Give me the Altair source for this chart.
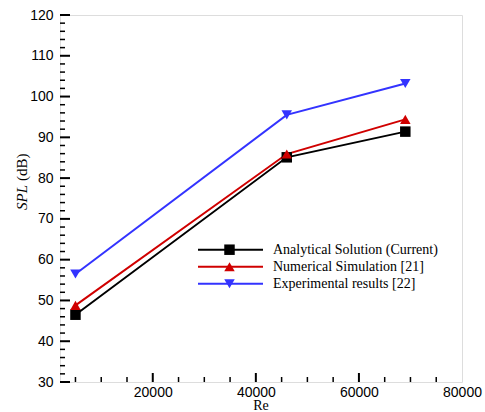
import altair as alt
import pandas as pd

re_vals = [5000, 46000, 69000]
analytical = [46.5, 85.1, 91.4]
numerical = [48.8, 85.9, 94.4]
experimental = [56.5, 95.5, 103.2]

series_names = ["Analytical Solution (Current)", "Numerical Simulation [21]", "Experimental results [22]"]
series_vals = [analytical, numerical, experimental]
colors = ["#000000", "#d00000", "#3333ff"]
shapes = ["square", "triangle-up", "triangle-down"]

y_major = list(range(30, 121, 10))
y_minor = [v for v in range(30, 121, 2) if v % 10 != 0]
x_major = [20000, 40000, 60000]
x_minor = [5000, 10000, 15000, 25000, 30000, 35000, 45000, 50000, 55000, 65000, 70000, 75000]

rows = []
for name, vals in zip(series_names, series_vals):
    for r, v in zip(re_vals, vals):
        rows.append({"Re": r, "SPL": v, "series": name})
df = pd.DataFrame(rows)

W, H = 402, 367
xscale = alt.Scale(domain=[2000, 80000], nice=False, zero=False)
yscale = alt.Scale(domain=[30, 120], nice=False, zero=False)
cscale = alt.Scale(domain=series_names, range=colors)
sscale = alt.Scale(domain=series_names, range=shapes)

xaxis = alt.Axis(values=[20000, 40000, 60000, 80000], format="d", grid=False, ticks=False, tickSize=0,
                 domain=False, labelFont="Liberation Sans", labelFontSize=14, labelColor="#000",
                 labelPadding=3, labelFlush=False, title=None)
yaxis = alt.Axis(values=y_major, grid=False, ticks=False, tickSize=0, domain=False,
                 labelFont="Liberation Sans", labelFontSize=14, labelColor="#000",
                 labelPadding=7, labelFlush=False, title=None)

base = alt.Chart(df)
lines = base.mark_line(strokeWidth=2).encode(
    x=alt.X("Re:Q", scale=xscale, axis=xaxis),
    y=alt.Y("SPL:Q", scale=yscale, axis=yaxis),
    color=alt.Color("series:N", scale=cscale, legend=None),
    detail="series:N",
)
points = base.mark_point(filled=True, opacity=1, size=110).encode(
    x=alt.X("Re:Q", scale=xscale),
    y=alt.Y("SPL:Q", scale=yscale),
    color=alt.Color("series:N", scale=cscale, legend=None),
    shape=alt.Shape("series:N", scale=sscale, legend=None),
)

ymaj = alt.Chart(pd.DataFrame({"v": y_major})).mark_rule(color="black", strokeWidth=2).encode(
    y=alt.Y("v:Q", scale=yscale), x=alt.value(0), x2=alt.value(10))
ymin = alt.Chart(pd.DataFrame({"v": y_minor})).mark_rule(color="black", strokeWidth=1.5).encode(
    y=alt.Y("v:Q", scale=yscale), x=alt.value(0), x2=alt.value(5))
xmaj = alt.Chart(pd.DataFrame({"v": x_major})).mark_rule(color="black", strokeWidth=2).encode(
    x=alt.X("v:Q", scale=xscale), y=alt.value(H), y2=alt.value(H - 9))
xmin = alt.Chart(pd.DataFrame({"v": x_minor})).mark_rule(color="black", strokeWidth=1.5).encode(
    x=alt.X("v:Q", scale=xscale), y=alt.value(H), y2=alt.value(H - 5))

# titles
tdf = pd.DataFrame({"a": [0]})
t_spl = alt.Chart(tdf).mark_text(text="SPL", font="Liberation Serif", fontSize=15, fontStyle="italic",
                                 angle=270, align="right", baseline="middle", color="black").encode(
    x=alt.value(-38), y=alt.value(170))
t_db = alt.Chart(tdf).mark_text(text="(dB)", font="Liberation Serif", fontSize=15,
                                angle=270, align="left", baseline="middle", color="black").encode(
    x=alt.value(-38), y=alt.value(166))
t_re = alt.Chart(tdf).mark_text(text="Re", font="Liberation Serif", fontSize=14,
                                align="center", baseline="middle", color="black").encode(
    x=alt.value(W / 2), y=alt.value(H + 24))

# legend
leg_layers = []
leg_y = [234.7, 251.7, 268.7]
for name, col, shp, ly in zip(series_names, colors, shapes, leg_y):
    ldf = pd.DataFrame({"series": [name]})
    leg_layers.append(alt.Chart(ldf).mark_rule(color=col, strokeWidth=2).encode(
        x=alt.value(138), x2=alt.value(203), y=alt.value(ly)))
    leg_layers.append(alt.Chart(ldf).mark_point(filled=True, opacity=1, size=110, color=col, shape=shp).encode(
        x=alt.value(169.5), y=alt.value(ly)))
    leg_layers.append(alt.Chart(ldf).mark_text(font="Liberation Serif", fontSize=14, align="left",
                                               baseline="middle", color="black").encode(
        x=alt.value(213), y=alt.value(ly), text="series:N"))

chart = alt.layer(lines, points, ymaj, ymin, xmaj, xmin, t_spl, t_db, t_re, *leg_layers).properties(
    width=W, height=H,
    autosize=alt.AutoSizeParams(type="none"),
    padding={"left": 60, "top": 15, "right": 23, "bottom": 30},
).configure_view(stroke="black", strokeWidth=2).configure(background="white")

chart.save("out.html", embed_options={"renderer": "svg", "actions": False})
